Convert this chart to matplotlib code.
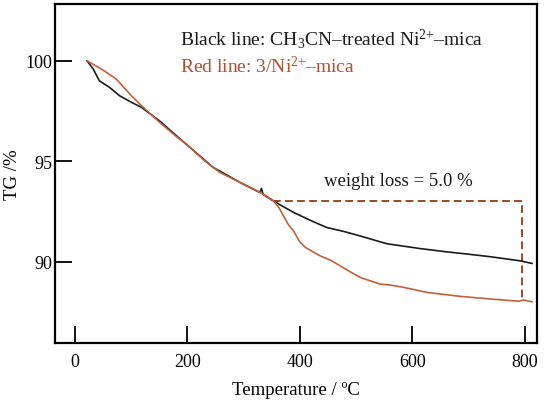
import matplotlib
matplotlib.use("Agg")
import matplotlib.pyplot as plt

plt.rcParams['font.family'] = ['Liberation Serif', 'DejaVu Serif']
plt.rcParams['mathtext.fontset'] = 'custom'
plt.rcParams['mathtext.rm'] = 'Liberation Serif'
plt.rcParams['mathtext.it'] = 'Liberation Serif:italic'

# Data
black_T = [22, 33, 44, 62, 80, 100, 119, 151, 181, 205, 246, 294, 329, 332, 335, 353,
           389, 420, 448, 480, 507, 555, 614, 660, 700, 740, 792, 813]
black_TG = [100.0, 99.59, 99.0, 98.68, 98.26, 97.95, 97.68, 97.01, 96.27, 95.69, 94.70, 93.95,
            93.45, 93.65, 93.35, 93.03, 92.46, 92.05, 91.71, 91.50, 91.29, 90.90, 90.66,
            90.50, 90.38, 90.25, 90.05, 89.92]
red_T = [22, 50, 74, 101, 119, 151, 180, 202, 230, 258, 306, 330, 353, 362, 371, 380, 389,
         400, 410, 436, 455, 472, 490, 508, 543, 560, 585, 626, 686, 740, 790, 798, 813]
red_TG = [100.0, 99.55, 99.09, 98.26, 97.76, 96.94, 96.25, 95.77, 95.05, 94.45, 93.78, 93.45,
          93.05, 92.75, 92.29, 91.85, 91.54, 91.0, 90.72, 90.30, 90.08, 89.80, 89.50, 89.22,
          88.89, 88.85, 88.73, 88.48, 88.28, 88.15, 88.04, 88.1, 88.01]
box_T = [353, 795, 795]
box_TG = [93.05, 93.05, 88.08]
x_ticks = [0, 200, 400, 600, 800]
y_ticks = [90, 95, 100]

fig = plt.figure(figsize=(5.5, 4.14), dpi=100)
ax = fig.add_axes([0.100, 0.169, 0.8755, 0.820])

ax.plot(box_T, box_TG, color='#9a4a26', lw=1.4, dashes=(4, 2.2))
ax.plot(black_T, black_TG, color='#1a1a1a', lw=1.2)
ax.plot(red_T, red_TG, color='#c0603a', lw=1.2)

ax.set_xlim(-35, 821)
ax.set_ylim(85.96, 102.85)
ax.set_xticks(x_ticks)
ax.set_yticks(y_ticks)
ax.tick_params(direction='in', length=12, width=1.3, labelsize=13, top=False, right=False)
ax.tick_params(axis='x', pad=7)
ax.tick_params(axis='y', pad=2)
for s in ax.spines.values():
    s.set_linewidth(1.6)

ax.set_xlabel('Temperature / ºC', fontsize=13.5, labelpad=8)
ax.set_ylabel('TG /%', fontsize=13.5, labelpad=3)

ax.text(0.259, 0.879, r'Black line: CH$_3$CN–treated Ni$^{2{+}}$–mica', transform=ax.transAxes,
        fontsize=14, color='#1a1a1a', va='baseline', ha='left')
ax.text(0.259, 0.798, r'Red line: 3/Ni$^{2{+}}$–mica', transform=ax.transAxes,
        fontsize=14, color='#b0502e', va='baseline', ha='left')
ax.text(0.559, 0.466, 'weight loss = 5.0 %', transform=ax.transAxes,
        fontsize=13.5, color='#1a1a1a', va='baseline', ha='left')

fig.savefig('out.png', dpi=100)
